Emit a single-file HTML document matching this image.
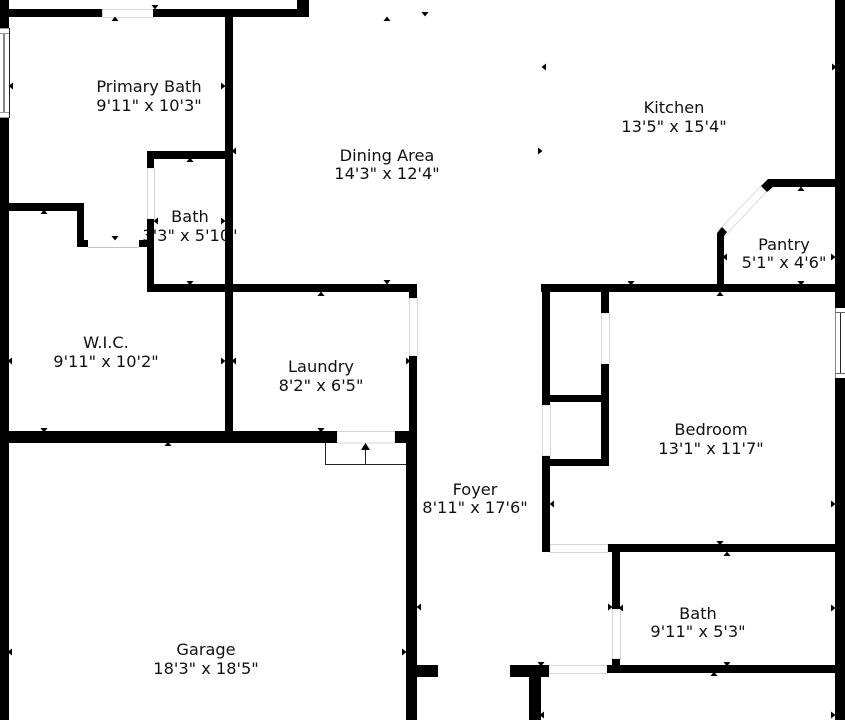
<!DOCTYPE html>
<html><head><meta charset="utf-8"><style>
html,body{margin:0;padding:0;background:#fff;width:845px;height:720px;overflow:hidden}
svg{display:block}
text{font-family:"DejaVu Sans","Liberation Sans",sans-serif;font-size:16.2px;fill:#111;text-anchor:middle}
</style></head><body>
<svg width="845" height="720" viewBox="0 0 845 720" xmlns="http://www.w3.org/2000/svg">
<rect width="845" height="720" fill="#fff"/>
<defs>
<polygon id="u" points="-3.5,2 3.5,2 0,-2.5"/>
<polygon id="d" points="-3.5,-2 3.5,-2 0,2.5"/>
<polygon id="l" points="2,-3.5 2,3.5 -2.5,0"/>
<polygon id="r" points="-2,-3.5 -2,3.5 2.5,0"/>
</defs>
<g>
<text x="149" y="92">Primary Bath</text><text x="149" y="111">9'11" x 10'3"</text>
<text x="190" y="222">Bath</text><text x="190" y="241">3'3" x 5'10"</text>
<text x="106" y="348">W.I.C.</text><text x="106" y="367">9'11" x 10'2"</text>
<text x="387" y="161">Dining Area</text><text x="387" y="179">14'3" x 12'4"</text>
<text x="674" y="113">Kitchen</text><text x="674" y="132">13'5" x 15'4"</text>
<text x="784" y="250">Pantry</text><text x="784" y="268">5'1" x 4'6"</text>
<text x="321" y="372">Laundry</text><text x="321" y="391">8'2" x 6'5"</text>
<text x="711" y="435">Bedroom</text><text x="711" y="454">13'1" x 11'7"</text>
<text x="475" y="495">Foyer</text><text x="475" y="513">8'11" x 17'6"</text>
<text x="698" y="619">Bath</text><text x="698" y="637">9'11" x 5'3"</text>
<text x="206" y="655">Garage</text><text x="206" y="674">18'3" x 18'5"</text>
</g>
<!-- doors (light) -->
<g fill="#fff" stroke="#d4d4d4" stroke-width="1">
<rect x="102.5" y="9.5" width="51" height="8"/>
<rect x="147.5" y="168" width="7" height="51"/>
<path d="M88 247.5H139" fill="none" stroke="#c4c4c4"/>
<rect x="409.5" y="298" width="8" height="58"/>
<rect x="337" y="431.5" width="58" height="11.5"/>
<rect x="601.5" y="313" width="8" height="51"/>
<rect x="542.5" y="405" width="8" height="51"/>
<rect x="550" y="544.5" width="58" height="8"/>
<rect x="612.5" y="609" width="8" height="50"/>
<rect x="549" y="665.5" width="58" height="8"/>
</g>
<polygon points="719,230 762,185 768,190 725,236" fill="#fff" stroke="#dcdcdc" stroke-width="1"/>
<!-- walls -->
<g fill="#000">
<rect x="0" y="0" width="9" height="28"/>
<rect x="0" y="118" width="9" height="313"/>
<rect x="0" y="431" width="9" height="289"/>
<rect x="9" y="9" width="93" height="8"/>
<rect x="153" y="9" width="156" height="8"/>
<rect x="297" y="0" width="12" height="17"/>
<rect x="225" y="17" width="8" height="420"/>
<rect x="147" y="151" width="78" height="8"/>
<rect x="147" y="151" width="7" height="17"/>
<rect x="147" y="219" width="7" height="73"/>
<rect x="147" y="284" width="270" height="8"/>
<rect x="9" y="203" width="75" height="8"/>
<rect x="77" y="203" width="7" height="44"/>
<rect x="77" y="240" width="11" height="7"/>
<rect x="139" y="240" width="15" height="7"/>
<rect x="409" y="284" width="8" height="14"/>
<rect x="409" y="356" width="8" height="87"/>
<rect x="0" y="431" width="337" height="12"/>
<rect x="395" y="431" width="22" height="12"/>
<rect x="406" y="443" width="11" height="277"/>
<rect x="406" y="665" width="32" height="12"/>
<rect x="510" y="665" width="39" height="12"/>
<rect x="529" y="665" width="12" height="55"/>
<rect x="607" y="665" width="228" height="8"/>
<rect x="612" y="659" width="8" height="8"/>
<rect x="612" y="544" width="8" height="65"/>
<rect x="608" y="544" width="227" height="8"/>
<rect x="542" y="456" width="8" height="96"/>
<rect x="542" y="284" width="8" height="121"/>
<rect x="541" y="284" width="294" height="8"/>
<rect x="601" y="292" width="8" height="21"/>
<rect x="601" y="364" width="8" height="102"/>
<rect x="550" y="395" width="51" height="7"/>
<rect x="550" y="459" width="59" height="7"/>
<rect x="717" y="234" width="7" height="50"/>
<polygon points="717,233 722,227 727,232 724,236 717,237"/>
<polygon points="761,186 768,179 835,179 835,187 773,187 767,192"/>
<rect x="835" y="0" width="10" height="308"/>
<rect x="835" y="378" width="10" height="342"/>
</g>
<!-- windows -->
<rect x="0" y="28" width="9" height="90" fill="#fff"/>
<rect x="9" y="28" width="1" height="90" fill="#222"/>
<rect x="3" y="33" width="2" height="79" fill="#888"/>
<path d="M0 33.5H9M0 112.5H9M0 28.5H9M0 117.5H9" stroke="#999" stroke-width="1"/>
<rect x="835" y="308" width="10" height="70" fill="#fff"/>
<rect x="835" y="308" width="1" height="70" fill="#888"/>
<rect x="840" y="312" width="1" height="61" fill="#222"/>
<path d="M835 312.5H845M835 373.5H845" stroke="#666" stroke-width="1"/>
<!-- entry step -->
<path d="M325.5 443V464.5H406M365.5 464V449" fill="none" stroke="#222" stroke-width="1"/>
<polygon points="361,450 370,450 365.5,443" fill="#000"/>
<!-- arrow ticks -->
<g fill="#000">
<use href="#u" x="115" y="19"/><use href="#d" x="155" y="7"/>
<use href="#l" x="11" y="86"/><use href="#r" x="223" y="86"/>
<use href="#l" x="234" y="151"/><use href="#u" x="190" y="160"/>
<use href="#l" x="156" y="221"/><use href="#r" x="223" y="221"/>
<use href="#u" x="44" y="212"/><use href="#d" x="115" y="238"/>
<use href="#d" x="190" y="283"/>
<use href="#d" x="387" y="282"/><use href="#u" x="321" y="294"/>
<use href="#r" x="408" y="361"/><use href="#d" x="321" y="430"/>
<use href="#u" x="387" y="19"/><use href="#d" x="425" y="14"/>
<use href="#l" x="544" y="67"/><use href="#r" x="834" y="67"/>
<use href="#r" x="540" y="151"/><use href="#u" x="801" y="189"/>
<use href="#l" x="725" y="257"/><use href="#r" x="833" y="257"/>
<use href="#d" x="631" y="283"/><use href="#d" x="801" y="283"/>
<use href="#u" x="720" y="294"/>
<use href="#u" x="168" y="444"/><use href="#d" x="44" y="430"/>
<use href="#l" x="10" y="361"/><use href="#r" x="223" y="361"/><use href="#l" x="234" y="361"/>
<use href="#l" x="10" y="652"/><use href="#r" x="404" y="652"/>
<use href="#l" x="419" y="607"/><use href="#r" x="610" y="607"/>
<use href="#l" x="621" y="608"/><use href="#r" x="833" y="608"/>
<use href="#d" x="720" y="543"/><use href="#u" x="727" y="554"/>
<use href="#d" x="541" y="664"/><use href="#d" x="727" y="664"/>
<use href="#u" x="714" y="674"/>
<use href="#l" x="542" y="715"/><use href="#r" x="833" y="715"/>
<use href="#l" x="552" y="504"/><use href="#r" x="833" y="504"/>
</g>
</svg>
</body></html>
